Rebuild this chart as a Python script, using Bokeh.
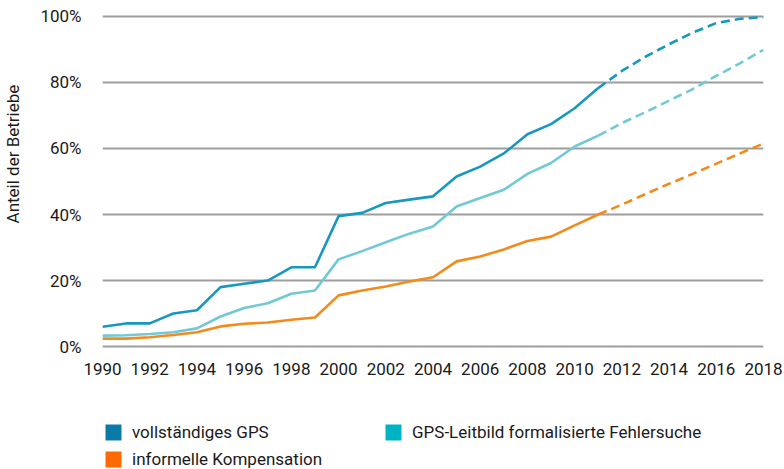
from bokeh.plotting import figure
from bokeh.models import Range1d, FixedTicker, Legend, LegendItem
from bokeh.layouts import column
from bokeh.embed import file_html
from bokeh.resources import INLINE

# ---------------- data ----------------
years_obs = list(range(1990, 2012))
years_proj = list(range(2011, 2019))

gps_full_obs = [6, 7, 7, 10, 11, 18, 19, 20, 24, 24, 39.5, 40.5, 43.5, 44.5,
                45.5, 51.5, 54.5, 58.5, 64.3, 67.4, 72.2, 78.3]
gps_full_proj = [78.3, 83.5, 87.8, 91.6, 95.1, 98.0, 99.3, 99.8]

gps_leit_obs = [3.3, 3.4, 3.8, 4.3, 5.5, 9.1, 11.7, 13.1, 16, 17, 26.4, 28.9,
                31.6, 34.2, 36.4, 42.4, 45, 47.5, 52.3, 55.6, 60.6, 63.9]
gps_leit_proj = [63.9, 67.7, 71, 74.5, 78, 82, 85.8, 89.9]

informal_obs = [2.4, 2.4, 2.8, 3.5, 4.3, 6.1, 6.9, 7.3, 8.1, 8.8, 15.5, 17,
                18.2, 19.7, 21, 25.8, 27.3, 29.4, 32, 33.3, 36.7, 40]
informal_proj = [40, 43, 46.2, 49.3, 52.3, 55.4, 58.5, 61.5]

x_ticks = list(range(1990, 2019, 2))
y_ticks = [0, 20, 40, 60, 80, 100]
y_tick_labels = ["0%", "20%", "40%", "60%", "80%", "100%"]

series_names = ["vollständiges GPS", "GPS-Leitbild formalisierte Fehlersuche",
                "informelle Kompensation"]
y_title = "Anteil der Betriebe"

# ---------------- styles ----------------
FONT = "Roboto"
TXT = "#1a1a1a"
line_colors = ["#1898c0", "#70c9d5", "#f28b1c"]
legend_colors = ["#0a7aa6", "#00b3c2", "#ff6a00"]

p = figure(width=784, height=400, output_backend="svg", toolbar_location=None,
           x_range=Range1d(1990, 2018), y_range=Range1d(-0.6, 100.6),
           min_border_left=98, min_border_right=21, min_border_top=14,
           min_border_bottom=52)
p.outline_line_color = None

# grid
p.xgrid.grid_line_color = None
p.ygrid.ticker = FixedTicker(ticks=y_ticks)
p.ygrid.grid_line_color = "#9d9d9d"
p.ygrid.grid_line_width = 2

# axes
for ax in (p.xaxis[0], p.yaxis[0]):
    ax.axis_line_color = None
    ax.major_tick_line_color = None
    ax.minor_tick_line_color = None
    ax.major_tick_in = 0
    ax.major_tick_out = 0
    ax.major_label_text_font = FONT
    ax.major_label_text_color = TXT
    ax.major_label_text_font_size = "17px"

p.xaxis.ticker = FixedTicker(ticks=x_ticks)
p.xaxis.major_label_standoff = 14
p.yaxis.ticker = FixedTicker(ticks=y_ticks)
p.yaxis.major_label_overrides = {t: l for t, l in zip(y_ticks, y_tick_labels)}
p.yaxis.major_label_standoff = 21

# y title (leading no-break spaces shift it upward like the reference)
p.yaxis.axis_label = "\u00a0" * 13 + y_title
p.yaxis.axis_label_text_font = FONT
p.yaxis.axis_label_text_font_style = "normal"
p.yaxis.axis_label_text_font_size = "17px"
p.yaxis.axis_label_text_color = TXT
p.yaxis.axis_label_standoff = 14

# lines
obs = [gps_full_obs, gps_leit_obs, informal_obs]
proj = [gps_full_proj, gps_leit_proj, informal_proj]
for i in [2, 1, 0]:
    p.line(years_obs, obs[i], line_color=line_colors[i], line_width=2.6)
    p.line(years_proj, proj[i], line_color=line_colors[i], line_width=2.6,
           line_dash="9 5")

# ---------------- legend figure ----------------
q = figure(width=784, height=69, output_backend="svg", toolbar_location=None,
           x_range=Range1d(0, 1), y_range=Range1d(0, 1),
           x_axis_type=None, y_axis_type=None,
           min_border_left=0, min_border_right=0, min_border_top=0,
           min_border_bottom=0)
q.outline_line_color = None
q.grid.visible = False

# legend swatches: one quad each, placed outside the visible range
leg_r = [q.quad(left=[5], right=[6], top=[6], bottom=[5], fill_color=c,
                line_color=None) for c in legend_colors]


def make_legend(items, loc):
    return Legend(items=items, location=loc, margin=0, padding=0,
                  spacing=0, glyph_width=20, glyph_height=20, label_height=27,
                  label_standoff=9, border_line_color=None,
                  background_fill_alpha=0, label_text_font=FONT,
                  label_text_font_size="17px", label_text_color=TXT)


lg1 = make_legend([LegendItem(label=series_names[0], renderers=[leg_r[0]]),
                   LegendItem(label=series_names[2], renderers=[leg_r[2]])],
                  (1, -3))
lg2 = make_legend([LegendItem(label=series_names[1], renderers=[leg_r[1]])],
                  (281, 24))
q.add_layout(lg1, "center")
q.add_layout(lg2, "center")

layout = column(p, q, spacing=0)
open("out.html", "w").write(file_html(layout, INLINE))
